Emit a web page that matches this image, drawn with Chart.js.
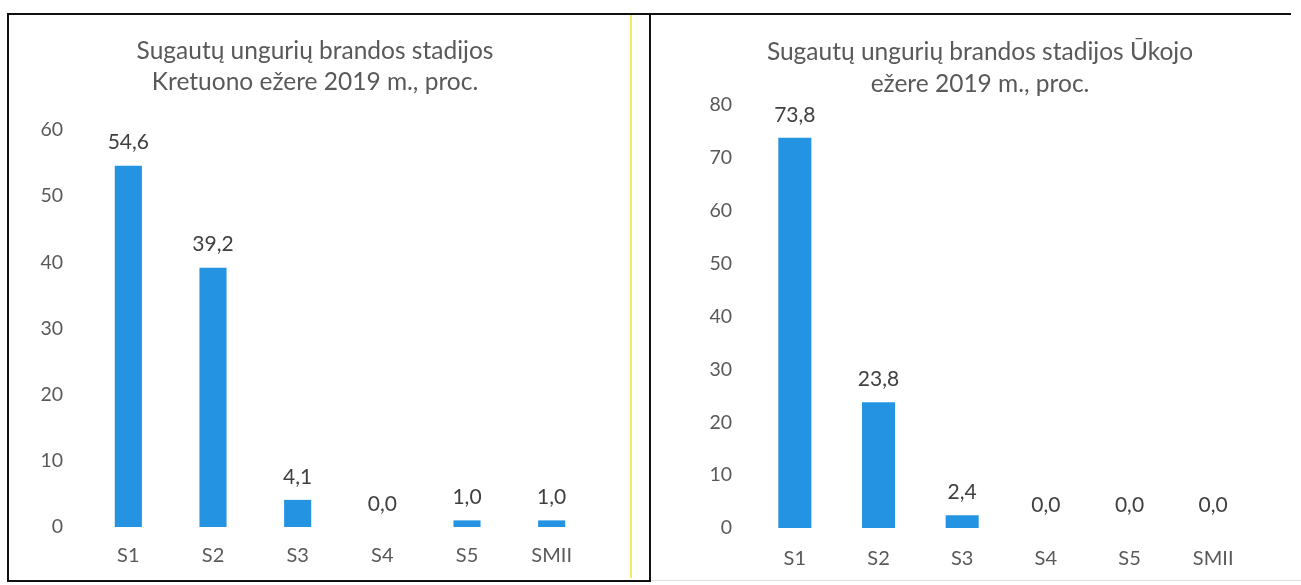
<!DOCTYPE html>
<html>
<head>
<meta charset="utf-8">
<script src="https://cdn.jsdelivr.net/npm/chart.js@4.4.1/dist/chart.umd.min.js"></script>
<style>
  html, body { margin: 0; padding: 0; background: #fff; }
  body { width: 1301px; height: 585px; position: relative; overflow: hidden; }
  .box { position: absolute; }
  #leftFrame { left: 7px; top: 13px; width: 640px; height: 565px; border: 2px solid #111; }
  #rightTop { left: 651px; top: 13px; width: 640px; height: 0; border-top: 2px solid #111; }
  #rightBottom { left: 651px; top: 580px; width: 650px; height: 0; border-top: 1px solid #ddd; }
  #yellow { left: 630px; top: 15px; width: 2px; height: 563px; background: #f6ea5e; }
  #leftWrap { left: 8px; top: 14px; width: 614px; height: 566px; }
  #rightWrap { left: 660px; top: 16px; width: 640px; height: 564px; }
</style>
</head>
<body>
<div class="box" id="yellow"></div>
<div class="box" id="leftFrame"></div>
<div class="box" id="rightTop"></div>
<div class="box" id="rightBottom"></div>
<div class="box" id="leftWrap"><canvas id="leftChart"></canvas></div>
<div class="box" id="rightWrap"><canvas id="rightChart"></canvas></div>

<script>
// data
const stages = ['S1', 'S2', 'S3', 'S4', 'S5', 'SMII'];
const kretuonas = [54.6, 39.2, 4.1, 0.0, 1.0, 1.0];
const ukojas = [73.8, 23.8, 2.4, 0.0, 0.0, 0.0];
const leftTicks = [0, 10, 20, 30, 40, 50, 60];
const rightTicks = [0, 10, 20, 30, 40, 50, 60, 70, 80];
const leftTitle = ['Sugautų ungurių brandos stadijos', 'Kretuono ežere 2019 m., proc.'];
const rightTitle = ['Sugautų ungurių brandos stadijos Ūkojo', 'ežere 2019 m., proc.'];

const barColor = '#2493e2';
const grey = '#595959';
const font = 'Lato, "Open Sans", sans-serif';
const titleSize = 24.5;

// value labels above the bars, decimal comma like the original
const valueLabels = {
  id: 'valueLabels',
  afterDatasetsDraw(chart) {
    const ctx = chart.ctx;
    const ds = chart.data.datasets[0];
    ctx.save();
    ctx.font = '21px ' + font;
    ctx.fillStyle = '#404040';
    ctx.textAlign = 'center';
    ctx.textBaseline = 'middle';
    chart.getDatasetMeta(0).data.forEach((bar, i) => {
      const txt = ds.data[i].toFixed(1).replace('.', ',');
      ctx.fillText(txt, bar.x, bar.y - 23);
    });
    ctx.restore();
  }
};

function makeChart(id, values, ticks, title, opts) {
  return new Chart(document.getElementById(id), {
    type: 'bar',
    data: {
      labels: stages,
      datasets: [{
        data: values,
        backgroundColor: barColor,
        borderWidth: 0,
        categoryPercentage: 1,
        barPercentage: opts.barPct
      }]
    },
    options: {
      responsive: true,
      maintainAspectRatio: false,
      animation: false,
      // same padding both sides so the title stays centred on the canvas
      layout: { padding: { left: opts.side, right: opts.side, top: 0, bottom: 0 } },
      plugins: {
        legend: { display: false },
        tooltip: { enabled: false },
        title: {
          display: true,
          text: title,
          color: grey,
          font: { family: font, size: titleSize, weight: 'normal', lineHeight: opts.titleLine / titleSize },
          padding: { top: opts.titleTop, bottom: opts.titleBottom }
        }
      },
      scales: {
        x: {
          grid: { display: false, drawTicks: false },
          border: { display: false },
          ticks: { color: grey, font: { family: font, size: 20 }, padding: opts.xPad },
          afterFit: s => { s.height = opts.xHeight; }
        },
        y: {
          min: 0,
          max: ticks[ticks.length - 1],
          grid: { display: false, drawTicks: false },
          border: { display: false },
          ticks: { color: grey, font: { family: font, size: 19.5 }, padding: opts.yPad },
          afterBuildTicks: s => { s.ticks = ticks.map(v => ({ value: v })); },
          afterFit: s => { s.width = opts.yWidth; }
        }
      }
    },
    plugins: [valueLabels]
  });
}

makeChart('leftChart', kretuonas, leftTicks, leftTitle, {
  barPct: 0.32, side: 28, titleLine: 31, titleTop: 22, titleBottom: 32,
  xPad: 17, xHeight: 53, yPad: 23, yWidth: 50
});

makeChart('rightChart', ukojas, rightTicks, rightTitle, {
  barPct: 0.395, side: 45, titleLine: 32, titleTop: 20, titleBottom: 5,
  xPad: 19, xHeight: 52, yPad: 21, yWidth: 48
});
</script>
</body>
</html>
